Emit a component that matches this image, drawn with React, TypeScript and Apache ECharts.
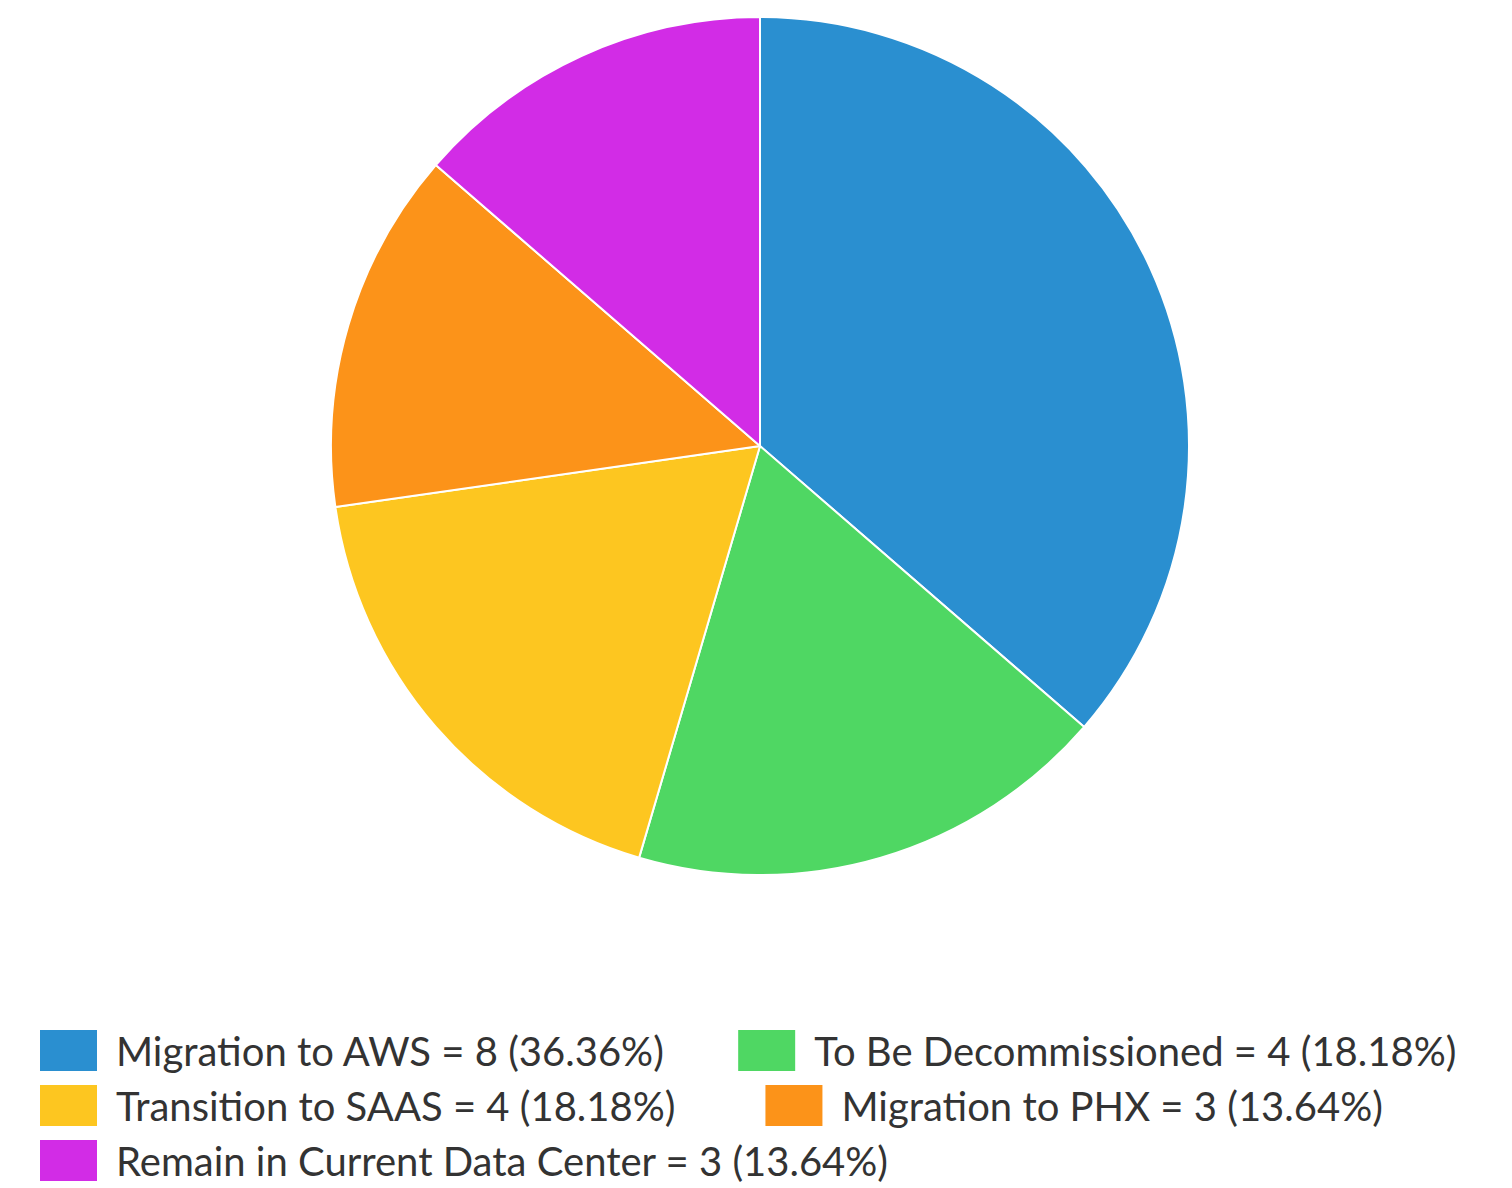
import React, { useEffect, useRef } from "react";
import * as echarts from "echarts";

const categories = [
  "Migration to AWS",
  "To Be Decommissioned",
  "Transition to SAAS",
  "Migration to PHX",
  "Remain in Current Data Center",
];
const values = [8, 4, 4, 3, 3];
const colors = ["#2a8fd0", "#4fd763", "#fdc620", "#fc9319", "#d22ce6"];
const legendRows = [
  ["Migration to AWS", "To Be Decommissioned"],
  ["Transition to SAAS", "Migration to PHX"],
  ["Remain in Current Data Center"],
];
const legendRowGaps = [71, 88, 78];

export default function App() {
  const ref = useRef<HTMLDivElement>(null);
  useEffect(() => {
    if (!ref.current) return;
    const chart = echarts.init(ref.current, null, { renderer: "svg" });
    const total = values.reduce((a, b) => a + b, 0);
    const valueOf: Record<string, number> = {};
    categories.forEach((c, i) => (valueOf[c] = values[i]));
    chart.setOption({
      animation: false,
      color: colors,
      legend: legendRows.map((row, i) => ({
        data: row,
        orient: "horizontal",
        left: 38,
        top: 1028 + i * 55,
        itemWidth: 59,
        itemHeight: 43,
        itemGap: legendRowGaps[i],
        icon: "rect",
        padding: 0,
        selectedMode: false,
        textStyle: {
          fontFamily: "Lato",
          fontSize: 40,
          color: "#333",
          padding: [0, 0, 0, 13],
        },
        formatter: (name: string) => {
          const v = valueOf[name];
          return `${name} = ${v} (${((v / total) * 100).toFixed(2)}%)`;
        },
      })),
      series: [
        {
          type: "pie",
          center: [760, 446],
          radius: 429,
          startAngle: 90,
          clockwise: true,
          label: { show: false },
          labelLine: { show: false },
          itemStyle: { borderColor: "#fff", borderWidth: 2 },
          data: categories.map((c, i) => ({ name: c, value: values[i] })),
        },
      ],
    });
    return () => chart.dispose();
  }, []);
  return (
    <div
      ref={ref}
      style={{ position: "absolute", left: 0, top: 0, width: 1512, height: 1188 }}
    />
  );
}
